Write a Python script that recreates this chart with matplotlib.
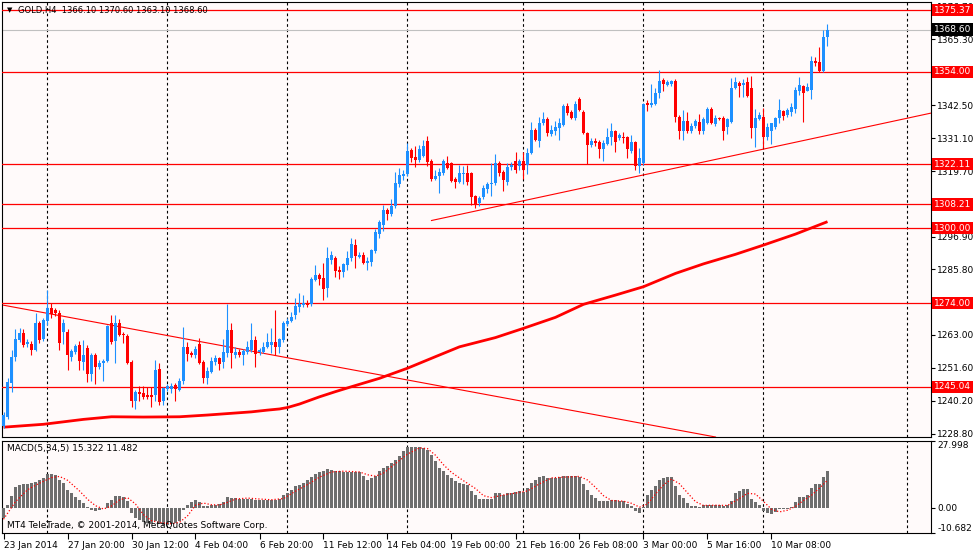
import numpy as np
import matplotlib
matplotlib.use('Agg')
import matplotlib.pyplot as plt

# GOLD H4 bars, 23 Jan 2014 .. 12 Mar 2014
opens = [
    1231.5, 1234.6, 1246.5, 1255.5, 1261.3, 1263.8, 1259.8, 1260.0, 1257.8, 1267.3,
    1261.6, 1268.0, 1272.2, 1271.5, 1270.7, 1264.2, 1264.2, 1255.5, 1257.2, 1259.5,
    1253.8, 1258.6, 1249.5, 1256.1, 1252.0, 1253.2, 1254.0, 1267.0, 1260.9, 1267.0,
    1263.5, 1262.7, 1253.8, 1240.3, 1243.4, 1242.8, 1242.2, 1242.1, 1242.2, 1251.1,
    1240.0, 1244.3, 1244.3, 1245.7, 1244.0, 1247.1, 1258.9, 1256.9, 1256.1, 1259.8,
    1253.8, 1248.2, 1250.3, 1253.8, 1255.0, 1253.6, 1256.7, 1264.7, 1256.1, 1257.2,
    1256.1, 1257.2, 1257.8, 1261.3, 1257.1, 1257.2, 1259.0, 1259.7, 1260.4, 1259.0,
    1261.3, 1266.7, 1268.0, 1269.9, 1272.8, 1273.4, 1274.0, 1273.6, 1282.0, 1283.8,
    1282.6, 1279.2, 1289.0, 1289.5, 1285.5, 1284.9, 1287.2, 1289.8, 1294.1, 1290.0,
    1290.7, 1288.0, 1288.4, 1292.1, 1297.8, 1301.1, 1306.3, 1304.8, 1307.7, 1315.1,
    1318.1, 1318.6, 1327.0, 1324.7, 1323.6, 1324.9, 1330.1, 1323.2, 1317.0, 1318.0,
    1318.9, 1322.6, 1322.4, 1317.0, 1316.0, 1318.8, 1319.1, 1318.9, 1311.1, 1308.6,
    1310.8, 1313.5, 1315.2, 1315.6, 1322.5, 1319.5, 1316.0, 1321.1, 1323.2, 1321.5,
    1323.2, 1321.8, 1325.9, 1333.9, 1330.2, 1336.3, 1337.7, 1332.5, 1333.7, 1334.5,
    1335.7, 1342.2, 1340.2, 1338.0, 1344.5, 1340.3, 1332.8, 1328.7, 1330.2, 1329.9,
    1327.3, 1329.1, 1331.6, 1333.6, 1331.0, 1331.6, 1331.4, 1326.6, 1329.7, 1321.6,
    1322.4, 1343.2, 1342.6, 1342.9, 1346.6, 1351.2, 1349.5, 1349.8, 1351.0, 1338.5,
    1333.7, 1337.0, 1333.7, 1335.3, 1336.8, 1333.7, 1336.4, 1341.2, 1336.0, 1338.2,
    1338.2, 1335.1, 1336.8, 1348.4, 1350.1, 1349.5, 1350.6, 1348.4, 1334.5, 1337.7,
    1338.3, 1331.6, 1333.7, 1334.9, 1338.0, 1340.5, 1339.1, 1340.2, 1341.1, 1347.5,
    1349.2, 1347.5, 1347.8, 1357.8, 1357.6, 1354.4, 1366.1]
highs = [
    1236.5, 1248.0, 1257.8, 1265.0, 1265.5, 1265.0, 1261.5, 1260.8, 1270.5, 1268.0,
    1269.0, 1278.6, 1274.0, 1272.5, 1271.5, 1268.5, 1265.0, 1258.0, 1260.0, 1261.0,
    1261.3, 1259.5, 1256.8, 1256.8, 1254.4, 1254.6, 1266.5, 1269.9, 1270.0, 1268.5,
    1264.0, 1263.5, 1254.5, 1244.0, 1245.4, 1245.4, 1245.0, 1245.0, 1254.4, 1253.2,
    1245.0, 1246.0, 1246.5, 1246.5, 1248.0, 1265.9, 1260.5, 1257.5, 1259.3, 1262.0,
    1254.5, 1252.0, 1255.5, 1256.0, 1255.5, 1261.5, 1273.6, 1267.0, 1259.0, 1258.0,
    1258.0, 1261.0, 1267.0, 1262.5, 1258.5, 1260.7, 1263.8, 1265.5, 1271.7, 1262.0,
    1268.0, 1268.8, 1271.0, 1275.8, 1277.4, 1277.0, 1275.0, 1283.0, 1287.2, 1284.3,
    1287.8, 1293.6, 1292.0, 1290.3, 1286.7, 1288.0, 1292.1, 1296.5, 1296.3, 1291.6,
    1291.6, 1290.0, 1292.8, 1299.7, 1302.7, 1308.0, 1306.8, 1310.1, 1319.5, 1320.7,
    1320.2, 1329.3, 1327.8, 1328.5, 1328.7, 1330.6, 1331.8, 1323.8, 1320.2, 1320.6,
    1323.8, 1324.9, 1323.0, 1317.5, 1321.8, 1321.5, 1321.8, 1319.5, 1311.5, 1311.0,
    1315.0, 1316.0, 1322.5, 1325.5, 1323.2, 1320.0, 1322.4, 1322.8, 1326.3, 1324.0,
    1326.4, 1327.6, 1336.8, 1334.5, 1338.5, 1340.0, 1338.4, 1335.6, 1337.0, 1338.1,
    1342.9, 1343.3, 1340.8, 1344.0, 1345.4, 1341.0, 1333.3, 1331.3, 1331.3, 1330.5,
    1330.6, 1334.6, 1336.2, 1334.0, 1332.8, 1333.2, 1332.0, 1332.2, 1330.2, 1327.6,
    1343.3, 1344.4, 1349.7, 1348.4, 1354.7, 1352.0, 1351.3, 1351.3, 1351.5, 1339.0,
    1340.8, 1340.1, 1336.5, 1337.7, 1339.3, 1338.4, 1342.0, 1342.0, 1339.1, 1338.4,
    1338.6, 1337.9, 1351.8, 1352.1, 1350.9, 1351.4, 1352.3, 1352.6, 1341.1, 1340.3,
    1341.5, 1336.2, 1336.5, 1338.4, 1344.6, 1340.8, 1341.5, 1343.2, 1348.9, 1352.4,
    1349.5, 1350.2, 1359.5, 1359.0, 1362.7, 1368.5, 1370.6]
lows = [
    1230.8, 1233.8, 1243.4, 1254.0, 1260.5, 1259.0, 1258.8, 1256.0, 1257.5, 1260.1,
    1261.0, 1266.5, 1269.0, 1269.5, 1257.8, 1259.9, 1250.9, 1253.9, 1256.5, 1251.0,
    1251.0, 1246.9, 1247.0, 1246.0, 1251.3, 1247.0, 1253.5, 1260.0, 1253.4, 1262.5,
    1260.3, 1252.8, 1238.2, 1237.3, 1240.0, 1241.0, 1241.0, 1238.0, 1240.0, 1238.6,
    1238.8, 1243.5, 1243.0, 1240.0, 1243.5, 1246.0, 1254.0, 1255.5, 1255.0, 1253.0,
    1246.5, 1246.0, 1250.0, 1252.5, 1251.0, 1251.5, 1255.5, 1251.5, 1255.0, 1255.5,
    1252.5, 1256.5, 1257.0, 1252.0, 1256.0, 1256.6, 1258.5, 1256.7, 1256.1, 1256.7,
    1260.5, 1266.0, 1267.5, 1268.5, 1271.0, 1272.8, 1272.7, 1273.0, 1281.6, 1280.3,
    1275.1, 1276.3, 1287.5, 1283.1, 1282.3, 1283.0, 1285.6, 1288.6, 1286.3, 1289.5,
    1287.6, 1285.5, 1287.0, 1291.5, 1296.6, 1298.9, 1302.7, 1304.2, 1307.0, 1314.3,
    1316.5, 1318.0, 1323.0, 1321.2, 1323.0, 1324.5, 1321.5, 1316.3, 1316.5, 1312.1,
    1318.5, 1320.4, 1315.9, 1313.8, 1315.5, 1315.2, 1314.9, 1308.0, 1307.0, 1307.5,
    1310.0, 1312.0, 1311.1, 1315.0, 1318.0, 1312.8, 1315.0, 1320.0, 1319.0, 1320.0,
    1317.1, 1318.8, 1325.5, 1330.0, 1328.1, 1335.6, 1332.0, 1332.0, 1332.2, 1330.5,
    1335.2, 1339.1, 1337.6, 1337.5, 1340.5, 1332.5, 1322.2, 1328.0, 1328.3, 1324.1,
    1323.1, 1328.6, 1328.6, 1326.3, 1330.6, 1329.3, 1324.1, 1326.0, 1320.1, 1319.1,
    1321.8, 1340.6, 1342.0, 1342.5, 1345.1, 1347.5, 1349.1, 1349.0, 1336.8, 1330.7,
    1330.4, 1332.8, 1332.8, 1334.6, 1332.6, 1332.6, 1335.9, 1335.9, 1335.2, 1337.4,
    1330.4, 1332.6, 1336.5, 1348.2, 1345.5, 1345.5, 1345.3, 1331.0, 1328.1, 1337.5,
    1327.6, 1330.3, 1329.0, 1334.4, 1336.5, 1337.4, 1338.4, 1338.7, 1339.8, 1346.1,
    1336.8, 1347.3, 1344.6, 1356.0, 1354.0, 1354.0, 1363.1]
closes = [
    1235.3, 1246.9, 1255.5, 1261.6, 1263.7, 1259.5, 1260.4, 1257.8, 1267.3, 1261.3,
    1268.2, 1272.2, 1270.2, 1270.5, 1260.3, 1267.2, 1256.1, 1257.5, 1259.2, 1254.1,
    1256.1, 1249.5, 1256.1, 1251.8, 1253.3, 1254.0, 1266.1, 1260.7, 1267.3, 1263.0,
    1263.0, 1253.2, 1240.3, 1243.4, 1242.6, 1241.7, 1241.7, 1241.6, 1250.9, 1239.9,
    1244.6, 1245.5, 1245.2, 1244.2, 1247.1, 1258.9, 1256.3, 1256.1, 1258.2, 1253.2,
    1248.2, 1250.6, 1254.0, 1255.0, 1253.0, 1257.0, 1264.7, 1256.7, 1257.2, 1256.1,
    1257.5, 1259.0, 1261.3, 1256.3, 1257.8, 1259.0, 1260.4, 1260.4, 1259.0, 1261.6,
    1267.0, 1267.8, 1269.3, 1273.1, 1273.6, 1274.0, 1273.4, 1282.4, 1283.8, 1282.4,
    1278.9, 1289.5, 1290.7, 1285.1, 1284.9, 1287.5, 1289.5, 1294.4, 1290.4, 1290.7,
    1288.0, 1288.6, 1292.4, 1298.7, 1302.2, 1306.3, 1304.8, 1307.7, 1315.5, 1318.4,
    1318.6, 1326.7, 1324.3, 1323.6, 1327.4, 1328.5, 1322.7, 1316.9, 1318.0, 1319.5,
    1323.2, 1320.9, 1316.3, 1316.0, 1319.2, 1319.1, 1316.0, 1310.8, 1308.3, 1310.5,
    1313.7, 1315.2, 1315.6, 1322.5, 1319.1, 1316.6, 1321.2, 1321.8, 1320.1, 1323.2,
    1320.1, 1326.1, 1333.9, 1330.5, 1336.4, 1337.8, 1332.8, 1333.9, 1335.1, 1336.2,
    1342.2, 1339.9, 1338.0, 1342.9, 1340.9, 1332.8, 1328.7, 1330.2, 1329.3, 1327.3,
    1329.5, 1331.6, 1333.6, 1329.9, 1332.2, 1331.0, 1327.3, 1329.7, 1321.6, 1324.1,
    1342.9, 1342.6, 1343.4, 1346.6, 1350.9, 1349.8, 1350.6, 1351.0, 1338.3, 1333.7,
    1337.0, 1333.7, 1335.3, 1337.0, 1333.7, 1337.6, 1341.2, 1336.2, 1338.2, 1337.7,
    1333.7, 1337.6, 1348.4, 1350.6, 1349.2, 1350.1, 1345.7, 1334.5, 1338.0, 1339.1,
    1331.6, 1334.9, 1336.2, 1338.0, 1340.8, 1338.8, 1340.8, 1341.8, 1347.8, 1349.5,
    1346.6, 1348.7, 1357.8, 1357.0, 1354.4, 1366.0, 1368.6]

# MACD(5,34,5) histogram, one value per bar
macd = [
    -4.2, 1.0, 5.0, 8.5, 9.5, 9.8, 10.0, 10.2, 10.9, 11.6,
    12.4, 14.2, 14.0, 13.5, 11.5, 10.3, 7.3, 6.0, 4.6, 3.2,
    1.9, 0.3, -1.0, -1.3, -1.0, -0.2, 1.8, 3.3, 4.9, 4.9,
    4.6, 2.6, -2.4, -4.5, -5.4, -6.0, -6.5, -6.8, -5.6, -6.9,
    -7.4, -7.3, -7.0, -6.6, -5.8, -1.0, 1.0, 2.2, 3.3, 2.2,
    0.8, 0.6, 1.0, 1.0, 1.4, 2.4, 4.4, 4.2, 4.0, 3.8,
    3.8, 3.8, 3.8, 3.4, 3.2, 3.1, 3.1, 3.2, 3.2, 3.6,
    5.3, 6.0, 7.6, 9.0, 9.7, 10.4, 11.4, 12.7, 14.2, 14.8,
    15.3, 16.4, 15.7, 15.3, 15.2, 15.0, 15.0, 15.0, 14.9, 14.8,
    13.2, 11.8, 12.4, 13.4, 15.3, 16.7, 17.4, 18.8, 20.2, 21.6,
    23.7, 25.4, 25.4, 25.4, 25.4, 25.0, 24.3, 22.3, 19.5, 16.7,
    15.3, 13.9, 12.5, 11.1, 10.4, 10.0, 9.3, 7.0, 5.3, 3.8,
    3.8, 3.8, 3.8, 6.0, 6.0, 5.3, 6.3, 6.3, 6.7, 7.0,
    6.7, 8.1, 10.4, 11.5, 12.7, 13.4, 12.5, 12.5, 12.5, 12.8,
    13.4, 13.4, 13.1, 13.4, 12.8, 10.0, 7.4, 5.3, 4.0, 2.8,
    2.6, 2.6, 3.2, 3.0, 2.6, 2.6, 1.4, 0.8, -1.6, -2.4,
    0.4, 5.3, 7.4, 9.0, 11.5, 12.5, 12.7, 12.7, 9.0, 5.3,
    4.0, 1.9, 0.8, 0.8, 0.4, 1.0, 1.0, 1.0, 1.0, 1.0,
    0.6, 1.2, 2.7, 6.0, 7.0, 7.8, 7.8, 3.8, 2.2, 1.2,
    -1.4, -2.1, -2.8, -1.8, -0.8, -0.8, -0.4, 0.4, 2.4, 4.3,
    4.6, 5.3, 8.1, 10.0, 10.0, 12.7, 15.3]

# signal line, read at a few bars
sig_bars = [0, 3, 6, 9, 12, 14, 16, 19, 21, 23, 25, 27, 29, 31, 33, 35, 37, 39, 42, 44,
            46, 48, 50, 52, 54, 56, 58, 61, 64, 67, 70, 73, 76, 79, 82, 85, 89, 91, 93, 95,
            98, 101, 104, 106, 108, 110, 112, 115, 118, 120, 122, 125, 128, 131, 134, 137,
            140, 144, 146, 148, 150, 152, 155, 157, 159, 161, 163, 165, 167, 169, 171, 173,
            175, 178, 181, 184, 186, 188, 190, 192, 194, 196, 198, 200, 202, 204, 206]
sig_vals = [-4.9, 2.5, 7.5, 10.3, 12.6, 13.1, 11.5, 7.0, 3.5, 0.8, -0.6, 0.7, 3.2, 4.2, 1.5,
            -3.0, -5.5, -6.3, -6.8, -6.2, -3.5, 1.0, 1.9, 1.2, 1.1, 2.2, 3.6, 4.0, 3.6, 3.3,
            3.8, 6.9, 9.7, 12.8, 15.0, 15.3, 15.0, 13.8, 13.2, 14.5, 18.5, 22.5, 25.1, 24.8,
            22.0, 18.0, 14.8, 11.3, 8.0, 5.0, 4.2, 5.3, 6.1, 7.0, 10.0, 12.5, 12.8, 13.1,
            11.6, 8.5, 5.0, 3.0, 2.7, 1.8, 0.2, 1.5, 5.7, 9.5, 12.0, 10.0, 6.2, 2.5, 0.9,
            1.0, 0.9, 3.8, 6.0, 5.7, 2.6, -0.7, -1.8, -1.1, 0.5, 3.0, 5.2, 8.2, 11.5]

# thick moving average
ma_bars = [0, 10, 20, 27, 35, 44, 51, 57, 62, 66, 69, 71, 74, 76, 79, 83, 87, 94, 101,
           108, 114, 123, 130, 138, 145, 153, 160, 168, 175, 183, 190, 198, 206]
ma_vals = [1231.1, 1232.1, 1233.8, 1234.7, 1234.6, 1234.7, 1235.3, 1235.9, 1236.4, 1237.0,
           1237.4, 1237.9, 1239.1, 1240.1, 1241.6, 1243.4, 1245.1, 1248.0, 1251.5, 1255.5,
           1258.9, 1262.1, 1265.3, 1269.1, 1273.6, 1276.8, 1279.7, 1284.3, 1287.6, 1290.9,
           1294.1, 1297.9, 1302.2]

levels = [1375.37, 1354.00, 1322.11, 1308.21, 1300.00, 1274.00, 1245.04]
last_price = 1368.60
trend_down = ([0, 178], [1273.3, 1227.7])
trend_up = ([107, 232], [1302.6, 1339.8])

grid_bars = [11, 41, 71, 101, 130, 160, 190, 226]
time_bars = [0, 16, 32, 48, 64, 80, 96, 112, 128, 144, 160, 176, 192]
time_labels = ['23 Jan 2014', '27 Jan 20:00', '30 Jan 12:00', '4 Feb 04:00', '6 Feb 20:00',
               '11 Feb 12:00', '14 Feb 04:00', '19 Feb 00:00', '21 Feb 16:00', '26 Feb 08:00',
               '3 Mar 00:00', '5 Mar 16:00', '10 Mar 08:00']
price_ticks = [1376.70, 1365.30, 1342.50, 1331.10, 1319.70, 1296.90, 1285.80,
               1263.00, 1251.60, 1240.20, 1228.80]

W, H = 974, 551
fs = 6.5
bg = '#fffafa'

fig = plt.figure(figsize=(W / 100, H / 100), dpi=100)
fig.patch.set_facecolor('white')


def rect(x0, y0, x1, y1):
    return [x0 / W, 1 - y1 / H, (x1 - x0) / W, (y1 - y0) / H]


ax = fig.add_axes(rect(2, 2, 931, 437))
ax2 = fig.add_axes(rect(2, 441, 931, 533))
for a in (ax, ax2):
    a.set_facecolor(bg)
    a.set_xlim(-0.375, 231.875)
    for s in a.spines.values():
        s.set_color('black')
        s.set_linewidth(0.8)
    for b in grid_bars:
        a.axvline(b, color='black', lw=0.8, ls=(0, (2.4, 2.4)), zorder=1)

# candles
o = np.array(opens)
h = np.array(highs)
l = np.array(lows)
c = np.array(closes)
x = np.arange(len(c))
cols = np.where(c >= o, '#1e90ff', '#ff0000')
ax.vlines(x, l, h, colors=cols, lw=0.8, zorder=4)
ax.bar(x, np.abs(c - o), bottom=np.minimum(o, c), width=0.75, color=cols,
       linewidth=0, zorder=5)

# levels and lines
for lv in levels:
    ax.axhline(lv, color='#ff0000', lw=0.9, zorder=3)
    ax.annotate(f'{lv:.2f}', xy=(1, lv), xycoords=('axes fraction', 'data'),
                xytext=(3, 0), textcoords='offset pixels', ha='left', va='center',
                fontsize=fs, color='white', annotation_clip=False, zorder=10,
                bbox=dict(boxstyle='square,pad=0.2', fc='#ff0000', ec='none'))
ax.axhline(last_price, color='#c0c0c0', lw=0.8, zorder=2)
ax.annotate(f'{last_price:.2f}', xy=(1, last_price), xycoords=('axes fraction', 'data'),
            xytext=(3, 0), textcoords='offset pixels', ha='left', va='center',
            fontsize=fs, color='white', annotation_clip=False, zorder=10,
            bbox=dict(boxstyle='square,pad=0.2', fc='black', ec='none'))

ax.plot(*trend_down, color='#ff0000', lw=0.8, zorder=3)
ax.plot(*trend_up, color='#ff0000', lw=0.8, zorder=3)
ax.plot(ma_bars, ma_vals, color='#ff0000', lw=2.0, zorder=3, solid_capstyle='butt')

ax.set_ylim(1227.7, 1378.2)
ax.yaxis.tick_right()
ax.set_yticks(price_ticks)
ax.set_yticklabels([f'{v:.2f}' for v in price_ticks])
ax.set_xticks([])
ax.tick_params(axis='y', length=3, width=0.8, labelsize=fs, pad=1.5)

# MACD pane
ax2.bar(x, macd, width=0.75, color='#6e6e6e', linewidth=0, zorder=3)
ax2.plot(sig_bars, sig_vals, color='#ff0000', lw=0.9, ls=(0, (1, 1.6)), zorder=4)
ax2.set_ylim(-10.682, 27.998)
ax2.yaxis.tick_right()
ax2.set_yticks([-10.682, 0, 27.998])
ax2.set_yticklabels(['-10.682', '0.00', '27.998'])
ylabs = ax2.get_yticklabels()
ylabs[0].set_va('bottom')
ylabs[2].set_va('top')
ax2.tick_params(axis='y', length=3, width=0.8, labelsize=fs, pad=1.5)
ax2.set_xticks(time_bars)
ax2.set_xticklabels(time_labels, ha='left')
ax2.tick_params(axis='x', length=4, width=0.8, labelsize=fs, pad=1.5)

fig.text(7 / W, 1 - 10 / H, '\u25bc', fontsize=5, va='center', ha='left', color='black')
fig.text(18 / W, 1 - 10 / H, 'GOLD,H4  1366.10 1370.60 1363.10 1368.60',
         fontsize=6, va='center', ha='left', color='black')
fig.text(7 / W, 1 - 449 / H, 'MACD(5,34,5) 15.322 11.482', fontsize=fs,
         va='center', ha='left', color='black')
fig.text(7 / W, 1 - 525 / H, 'MT4 TeleTrade, \u00a9 2001-2014, MetaQuotes Software Corp.',
         fontsize=fs, va='center', ha='left', color='black')

fig.savefig('out.png', dpi=100, facecolor='white')
